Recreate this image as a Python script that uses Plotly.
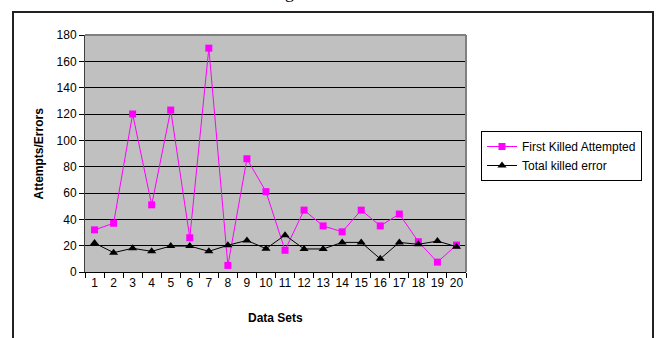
import plotly.graph_objects as go

categories = [str(i) for i in range(1, 21)]
first_killed_attempted = [32, 37, 120, 51, 123, 26, 170, 5, 86, 61, 16.5, 47, 35, 30.5, 47, 35, 44, 23, 7.5, 20.5]
total_killed_error = [22, 14.7, 18, 15.7, 19.7, 19.7, 15.7, 20.3, 24, 17.7, 28, 17.5, 17.5, 22.5, 22.5, 10, 22.5, 21, 23.5, 19.2]
y_ticks = [0, 20, 40, 60, 80, 100, 120, 140, 160, 180]

W, H = 658, 338
L, R, T, B = 85, 466, 35, 272
pw, ph = R - L, B - T

def px(x):
    return (x - L) / pw

def py(y):
    return (B - y) / ph

FONT = "Liberation Sans, Arial, sans-serif"

fig = go.Figure()
fig.add_trace(go.Scatter(
    x=categories, y=first_killed_attempted, mode="lines+markers",
    name="First Killed Attempted",
    line=dict(color="#FF00FF", width=1),
    marker=dict(symbol="square", size=7, color="#FF00FF"),
))
fig.add_trace(go.Scatter(
    x=categories, y=total_killed_error, mode="lines+markers",
    name="Total killed error",
    line=dict(color="#000000", width=1),
    marker=dict(symbol="triangle-up", size=8, color="#000000"),
))

fig.update_layout(
    width=W, height=H,
    margin=dict(l=L, r=W - R, t=T, b=H - B, pad=0),
    paper_bgcolor="white", plot_bgcolor="#C0C0C0",
    font=dict(family=FONT, size=12, color="black"),
    showlegend=True,
    legend=dict(
        x=px(481), y=py(131), xanchor="left", yanchor="top",
        bgcolor="white", bordercolor="black", borderwidth=1,
        font=dict(family=FONT, size=12, color="black"),
        tracegroupgap=2,
    ),
    xaxis=dict(
        type="category", categoryorder="array", categoryarray=categories,
        range=[-0.5, 19.5],
        showgrid=False, zeroline=False,
        showline=True, linecolor="#000000", linewidth=1,
        ticks="outside", tickson="boundaries", ticklen=5, tickcolor="#000000",
        tickangle=0, automargin=False,
        tickfont=dict(family=FONT, size=12), fixedrange=True,
    ),
    yaxis=dict(
        range=[0, 180], tickvals=y_ticks,
        showgrid=True, gridcolor="#000000", gridwidth=1,
        zeroline=False,
        showline=True, linecolor="#404040", linewidth=1,
        ticks="outside", ticklen=5, tickcolor="#000000",
        tickfont=dict(family=FONT, size=12), fixedrange=True,
    ),
    shapes=[
        dict(type="line", xref="paper", yref="paper", x0=0, x1=1, y0=1, y1=1,
             line=dict(color="#808080", width=2), layer="above"),
        dict(type="line", xref="paper", yref="paper", x0=1, x1=1, y0=0, y1=1,
             line=dict(color="#808080", width=2), layer="above"),
        dict(type="rect", xref="paper", yref="paper",
             x0=px(13), x1=px(653), y0=py(350), y1=py(12),
             line=dict(color="#222222", width=2), layer="below"),
    ],
    annotations=[
        dict(text="<b>Attempts/Errors</b>", xref="paper", yref="paper",
             x=px(38), y=0.5, showarrow=False, textangle=-90,
             xanchor="center", yanchor="middle",
             font=dict(family=FONT, size=12, color="black")),
        dict(text="<b>Data Sets</b>", xref="paper", yref="paper",
             x=0.5, y=py(318), showarrow=False,
             xanchor="center", yanchor="middle",
             font=dict(family=FONT, size=12, color="black")),
        dict(text="Figure 8", xref="paper", yref="paper",
             x=px(300), y=py(4), showarrow=False,
             xanchor="center", yanchor="bottom",
             font=dict(family="Liberation Serif, Times New Roman, serif", size=18, color="black")),
    ],
)

fig.write_html("out.html")
